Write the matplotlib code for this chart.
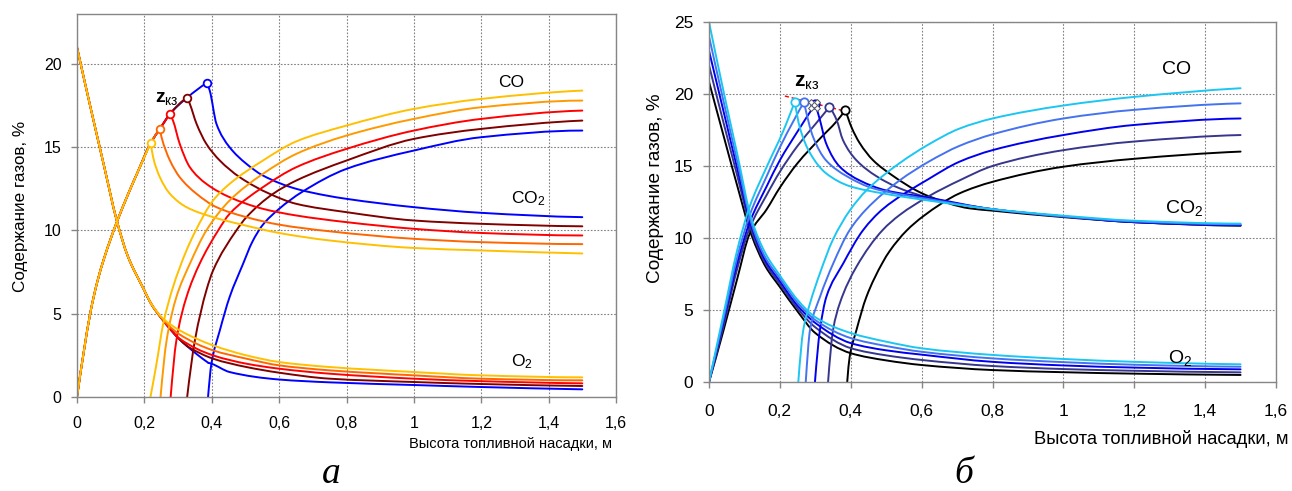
import numpy as np
import matplotlib.pyplot as plt
from matplotlib.path import Path
from matplotlib.patches import PathPatch

plt.rcParams['font.family'] = ['Liberation Sans', 'DejaVu Sans']
plt.rcParams['mathtext.fontset'] = 'custom'
plt.rcParams['mathtext.rm'] = 'Liberation Sans'
plt.rcParams['mathtext.it'] = 'Liberation Sans:italic'
plt.rcParams['mathtext.bf'] = 'Liberation Sans:bold'

# ---------------- panel a ----------------
colors_a = ['#FFC000', '#FF6600', '#FF0000', '#800000', '#0000FF']
co_colors_a = ['#FFC000', '#FF9900', '#FF0000', '#800000', '#0000FF']

peak_x_a = [0.219, 0.246, 0.276, 0.327, 0.385]
peak_y_a = [15.26, 16.1, 17.0, 17.98, 18.86]

# shared rising CO2 path and shared O2 path before each split
rise_x_a = [0, 0.02, 0.04, 0.06, 0.08, 0.1, 0.12, 0.15, 0.18, 0.219, 0.246, 0.276, 0.327, 0.385]
rise_y_a = [0, 2.7, 5.1, 6.9, 8.3, 9.5, 10.6, 12.1, 13.5, 15.26, 16.1, 17.0, 17.98, 18.86]
o2_common_x_a = [0, 0.04, 0.08, 0.118, 0.15, 0.2, 0.22, 0.25, 0.28, 0.3, 0.33, 0.36, 0.39]
o2_common_y_a = [21, 17.4, 13.9, 10.6, 8.5, 6.4, 5.6, 4.75, 4.0, 3.55, 3.0, 2.5, 2.05]

co2_tail_x_a = [
    [0.219, 0.226, 0.246, 0.276, 0.325, 0.404, 0.5, 0.6, 0.75, 1.0, 1.2, 1.5],
    [0.246, 0.251, 0.276, 0.305, 0.355, 0.414, 0.503, 0.6, 0.75, 1.0, 1.2, 1.5],
    [0.276, 0.285, 0.305, 0.335, 0.384, 0.453, 0.552, 0.651, 0.8, 1.0, 1.2, 1.5],
    [0.327, 0.335, 0.355, 0.384, 0.424, 0.483, 0.572, 0.651, 0.8, 1.0, 1.2, 1.5],
    [0.385, 0.394, 0.414, 0.453, 0.503, 0.552, 0.651, 0.74, 0.8, 1.0, 1.2, 1.5],
]
co2_tail_y_a = [
    [15.26, 14.4, 13.2, 12.2, 11.4, 10.8, 10.3, 9.85, 9.4, 8.95, 8.8, 8.62],
    [16.1, 15.6, 14.2, 13.2, 12.2, 11.4, 10.8, 10.35, 9.95, 9.5, 9.3, 9.18],
    [17.0, 16.6, 15.2, 13.8, 12.8, 12.0, 11.3, 10.9, 10.5, 10.1, 9.85, 9.7],
    [17.98, 17.6, 16.4, 15.2, 14.2, 13.2, 12.2, 11.6, 11.1, 10.6, 10.4, 10.25],
    [18.86, 18.4, 16.4, 15.0, 14.0, 13.3, 12.5, 12.1, 11.9, 11.4, 11.06, 10.8],
]
co_x_a = [
    [0.218, 0.236, 0.256, 0.285, 0.325, 0.35, 0.404, 0.453, 0.552, 0.651, 0.8, 1.0, 1.2, 1.5],
    [0.248, 0.266, 0.295, 0.335, 0.384, 0.453, 0.552, 0.651, 0.8, 1.0, 1.2, 1.5],
    [0.278, 0.295, 0.325, 0.364, 0.419, 0.453, 0.552, 0.651, 0.8, 1.0, 1.2, 1.5],
    [0.327, 0.35, 0.384, 0.404, 0.473, 0.503, 0.582, 0.651, 0.8, 1.0, 1.2, 1.5],
    [0.389, 0.399, 0.424, 0.453, 0.493, 0.52, 0.55, 0.6, 0.667, 0.8, 1.0, 1.2, 1.5],
]
co_y_a = [
    [0, 2.0, 4.4, 6.6, 8.8, 9.9, 11.8, 12.8, 14.2, 15.35, 16.3, 17.3, 17.9, 18.4],
    [0, 3.4, 6.0, 8.0, 10.0, 11.8, 13.4, 14.6, 15.7, 16.7, 17.4, 17.8],
    [0, 3.4, 6.0, 8.0, 10.0, 11.0, 12.6, 13.8, 14.9, 16.0, 16.7, 17.2],
    [0, 3.4, 6.4, 7.6, 10.0, 10.8, 12.2, 13.0, 14.2, 15.5, 16.1, 16.6],
    [0, 2.0, 4.0, 6.0, 8.0, 9.3, 10.3, 11.3, 12.3, 13.7, 14.8, 15.6, 16.0],
]
o2_tail_x_a = [
    [0.22, 0.256, 0.305, 0.404, 0.503, 0.6, 0.75, 1.0, 1.2, 1.5],
    [0.246, 0.266, 0.305, 0.404, 0.503, 0.6, 0.75, 1.0, 1.2, 1.5],
    [0.276, 0.305, 0.404, 0.503, 0.6, 0.75, 1.0, 1.2, 1.5],
    [0.327, 0.335, 0.404, 0.503, 0.6, 0.75, 1.0, 1.2, 1.5],
    [0.39, 0.399, 0.453, 0.6, 0.75, 1.0, 1.2, 1.5],
]
o2_tail_y_a = [
    [5.6, 4.7, 4.0, 3.1, 2.5, 2.1, 1.8, 1.5, 1.3, 1.18],
    [4.85, 4.4, 3.75, 2.8, 2.3, 1.9, 1.6, 1.3, 1.1, 1.0],
    [4.1, 3.5, 2.5, 2.0, 1.7, 1.4, 1.1, 0.95, 0.82],
    [3.05, 2.95, 2.3, 1.8, 1.46, 1.1, 0.9, 0.78, 0.66],
    [2.05, 2.0, 1.5, 1.05, 0.88, 0.72, 0.6, 0.46],
]

# ---------------- panel b ----------------
colors_b = ['#1CC6F2', '#4472F0', '#0000EE', '#36368C', '#000000']
peak_x_b = [0.242, 0.268, 0.30, 0.34, 0.385]
peak_y_b = [19.47, 19.45, 19.3, 19.1, 18.9]

co2_x_b = [
    [0, 0.04, 0.08, 0.115, 0.163, 0.209, 0.242, 0.256, 0.285, 0.33, 0.397, 0.49, 0.62, 0.8, 1.0, 1.2, 1.5],
    [0, 0.04, 0.08, 0.115, 0.163, 0.2, 0.24, 0.268, 0.294, 0.33, 0.388, 0.463, 0.62, 0.8, 1.0, 1.2, 1.5],
    [0, 0.04, 0.08, 0.115, 0.163, 0.2, 0.25, 0.30, 0.313, 0.33, 0.369, 0.425, 0.5, 0.62, 0.8, 1.0, 1.2, 1.5],
    [0, 0.04, 0.08, 0.115, 0.163, 0.2, 0.25, 0.3, 0.34, 0.36, 0.378, 0.416, 0.472, 0.538, 0.62, 0.8, 1.0, 1.2, 1.5],
    [0, 0.04, 0.08, 0.115, 0.163, 0.2, 0.25, 0.313, 0.36, 0.385, 0.402, 0.425, 0.463, 0.52, 0.585, 0.62, 0.735, 0.8, 1.0, 1.2, 1.5],
]
co2_y_b = [
    [0, 4.6, 9.2, 12.2, 14.95, 17.4, 19.47, 17.7, 15.9, 14.5, 13.6, 13.1, 12.6, 12.0, 11.55, 11.2, 11.0],
    [0, 4.3, 8.7, 11.6, 14.3, 16.3, 18.2, 19.45, 17.0, 15.4, 14.3, 13.45, 12.7, 12.0, 11.5, 11.15, 10.95],
    [0, 4.1, 8.3, 11.1, 13.6, 15.4, 17.4, 19.3, 18.2, 16.6, 14.95, 14.0, 13.3, 12.8, 12.0, 11.5, 11.1, 10.9],
    [0, 3.8, 7.9, 10.7, 13.0, 14.6, 16.4, 17.9, 19.1, 18.2, 16.8, 15.4, 14.3, 13.45, 12.8, 12.0, 11.5, 11.1, 10.88],
    [0, 3.5, 7.2, 10.3, 12.0, 13.5, 15.2, 16.9, 18.1, 18.9, 17.7, 16.6, 15.4, 14.3, 13.3, 12.9, 12.06, 11.9, 11.45, 11.1, 10.85],
]
co_x_b = [
    [0.252, 0.266, 0.285, 0.313, 0.35, 0.397, 0.444, 0.538, 0.62, 0.707, 0.8, 1.0, 1.2, 1.5],
    [0.273, 0.285, 0.313, 0.35, 0.397, 0.444, 0.538, 0.62, 0.707, 0.8, 1.0, 1.2, 1.5],
    [0.299, 0.313, 0.331, 0.378, 0.435, 0.49, 0.62, 0.707, 0.8, 1.0, 1.2, 1.5],
    [0.336, 0.35, 0.369, 0.416, 0.49, 0.538, 0.62, 0.707, 0.8, 1.0, 1.2, 1.5],
    [0.39, 0.397, 0.416, 0.444, 0.49, 0.51, 0.557, 0.604, 0.707, 0.8, 1.0, 1.2, 1.5],
]
co_y_b = [
    [0, 3.6, 5.46, 7.55, 9.9, 11.9, 13.3, 15.2, 16.5, 17.6, 18.3, 19.2, 19.8, 20.4],
    [0, 3.6, 5.9, 8.2, 10.55, 12.0, 14.0, 15.3, 16.4, 17.2, 18.3, 18.9, 19.35],
    [0, 3.6, 5.9, 8.2, 10.55, 12.0, 14.1, 15.3, 16.1, 17.15, 17.85, 18.3],
    [0, 3.6, 5.46, 8.0, 10.55, 11.6, 12.9, 14.0, 15.0, 16.1, 16.7, 17.15],
    [0, 1.76, 3.6, 5.9, 8.3, 9.1, 10.5, 11.5, 13.1, 13.9, 14.95, 15.5, 16.0],
]
o2_x_b = [0, 0.04, 0.08, 0.12, 0.16, 0.2, 0.25, 0.3, 0.4, 0.5, 0.6, 0.8, 1.0, 1.2, 1.5]
o2_y_b = [
    [25, 20.3, 15.8, 11.3, 8.9, 7.4, 5.7, 4.5, 3.4, 2.8, 2.34, 1.88, 1.6, 1.4, 1.23],
    [24, 19.6, 15.3, 11.0, 8.6, 7.2, 5.5, 4.3, 3.05, 2.5, 2.1, 1.64, 1.38, 1.2, 1.06],
    [23, 18.9, 14.8, 10.8, 8.4, 7.0, 5.3, 4.1, 2.7, 2.2, 1.9, 1.4, 1.15, 1.0, 0.88],
    [22, 18.1, 14.3, 10.5, 8.2, 6.8, 5.1, 3.8, 2.35, 1.85, 1.53, 1.11, 0.9, 0.78, 0.67],
    [20.85, 17.2, 13.6, 10.2, 8.0, 6.6, 4.9, 3.4, 2.0, 1.5, 1.18, 0.83, 0.68, 0.58, 0.49],
]
trend_x_b = [0.214, 0.385]
trend_y_b = [19.86, 18.8]
handle_x_b = [0.287, 0.305, 0.287, 0.305]
handle_y_b = [19.47, 19.47, 19.0, 19.0]

xticks = [0, 0.2, 0.4, 0.6, 0.8, 1.0, 1.2, 1.4, 1.6]
xtick_labels = ['0', '0,2', '0,4', '0,6', '0,8', '1', '1,2', '1,4', '1,6']
ylabel = 'Содержание газов, %'
xlabel = 'Высота топливной насадки, м'


def slopes(x, y):
    # monotone (Fritsch-Carlson) tangents, used for a smoothed line like Excel's
    h = np.diff(x)
    d = np.diff(y) / h
    n = len(x)
    m = np.zeros(n)
    if n == 2:
        m[:] = d[0]
        return m
    for k in range(1, n - 1):
        if d[k - 1] * d[k] > 0:
            w1 = 2 * h[k] + h[k - 1]
            w2 = h[k] + 2 * h[k - 1]
            m[k] = (w1 + w2) / (w1 / d[k - 1] + w2 / d[k])
    for k0, a, b, ha, hb in [(0, 0, 1, 0, 1), (n - 1, -1, -2, -1, -2)]:
        e = ((2 * h[ha] + h[hb]) * d[a] - h[ha] * d[b]) / (h[ha] + h[hb])
        if np.sign(e) != np.sign(d[a]):
            e = 0
        elif np.sign(d[a]) != np.sign(d[b]) and abs(e) > abs(3 * d[a]):
            e = 3 * d[a]
        m[k0] = e
    return m


def smooth(ax, x, y, color, lw=1.4, z=2):
    x = np.asarray(x, float)
    y = np.asarray(y, float)
    m = slopes(x, y)
    verts = [(x[0], y[0])]
    codes = [Path.MOVETO]
    for k in range(len(x) - 1):
        h = x[k + 1] - x[k]
        verts += [(x[k] + h / 3, y[k] + m[k] * h / 3),
                  (x[k + 1] - h / 3, y[k + 1] - m[k + 1] * h / 3),
                  (x[k + 1], y[k + 1])]
        codes += [Path.CURVE4] * 3
    ax.add_patch(PathPatch(Path(verts, codes), fill=False, edgecolor=color,
                           lw=lw, zorder=z, capstyle='round', joinstyle='round'))


def style(ax, ymax, yticks, fs, padx, pady):
    ax.set_xlim(0, 1.6)
    ax.set_ylim(0, ymax)
    ax.set_xticks(xticks)
    ax.set_xticklabels(xtick_labels)
    ax.set_yticks(yticks)
    ax.grid(True, color='#808080', linestyle=(0, (1.5, 1.5)), linewidth=0.8)
    for s in ax.spines.values():
        s.set_color('#868686')
        s.set_linewidth(1.0)
    ax.tick_params(direction='out', length=4.5, width=1, color='#868686', labelsize=fs)
    ax.tick_params(axis='x', pad=padx)
    ax.tick_params(axis='y', pad=pady)
    ax.set_axisbelow(True)


fig = plt.figure(figsize=(12.92, 4.91), dpi=100)
W, H = 1292, 491
ax1 = fig.add_axes([77 / W, 1 - 397 / H, (616 - 77) / W, (397 - 14) / H])
ax2 = fig.add_axes([709 / W, 1 - 382 / H, (1276 - 709) / W, (382 - 22) / H])

style(ax1, 23, [0, 5, 10, 15, 20], 11.5, 9.5, 6.5)
style(ax2, 25, [0, 5, 10, 15, 20, 25], 12.5, 11, 7)

for i in reversed(range(5)):
    rx = np.array(rise_x_a)
    keep = rx < peak_x_a[i]
    smooth(ax1, list(rx[keep]) + [peak_x_a[i]], list(np.array(rise_y_a)[keep]) + [peak_y_a[i]], colors_a[i])
    smooth(ax1, co2_tail_x_a[i], co2_tail_y_a[i], colors_a[i])
    ox = np.array(o2_common_x_a)
    keep = ox < o2_tail_x_a[i][0]
    smooth(ax1, list(ox[keep]) + [o2_tail_x_a[i][0]], list(np.array(o2_common_y_a)[keep]) + [o2_tail_y_a[i][0]], colors_a[i])
    smooth(ax1, o2_tail_x_a[i], o2_tail_y_a[i], colors_a[i])
    smooth(ax1, co_x_a[i], co_y_a[i], co_colors_a[i])
for i in range(5):
    ax1.plot(peak_x_a[i], peak_y_a[i], 'o', ms=5.5, mfc='white', mec=colors_a[i], mew=1.3, zorder=5)

ax1.text(1.29, 18.9, 'CO', fontsize=12.5, ha='center', va='center')
ax1.text(1.34, 11.9, 'CO$_2$', fontsize=12.5, ha='center', va='center')
ax1.text(1.32, 2.1, 'O$_2$', fontsize=12.5, ha='center', va='center')
ax1.text(0.268, 17.95, r'$\mathbf{z}_{\mathrm{кз}}$', fontsize=14, ha='center', va='center')

for i in reversed(range(5)):
    k = int(np.argmax(co2_y_b[i]))
    smooth(ax2, co2_x_b[i][:k + 1], co2_y_b[i][:k + 1], colors_b[i])
    smooth(ax2, co2_x_b[i][k:], co2_y_b[i][k:], colors_b[i])
    smooth(ax2, o2_x_b, o2_y_b[i], colors_b[i])
    smooth(ax2, co_x_b[i], co_y_b[i], colors_b[i])
ax2.plot(trend_x_b, trend_y_b, color='#FF0000', lw=1, linestyle=(0, (3, 2)), zorder=4)
for i in range(5):
    ax2.plot(peak_x_b[i], peak_y_b[i], 'o', ms=6, mfc='white', mec=colors_b[i], mew=1.3, zorder=5)
ax2.plot(handle_x_b, handle_y_b, 'D', ms=3, mfc='white', mec='#555555', mew=0.7, linestyle='none', zorder=6)

ax2.text(1.318, 21.7, 'CO', fontsize=14, ha='center', va='center')
ax2.text(1.34, 12.1, 'CO$_2$', fontsize=14, ha='center', va='center')
ax2.text(1.33, 1.7, 'O$_2$', fontsize=14, ha='center', va='center')
ax2.text(0.275, 20.8, r'$\mathbf{z}_{\mathrm{кз}}$', fontsize=15, ha='center', va='center')

fig.text(612 / W, 1 - 444 / H, xlabel, fontsize=10.5, ha='right', va='center')
fig.text(1289 / W, 1 - 439 / H, xlabel, fontsize=13.2, ha='right', va='center')
fig.text(21 / W, 1 - 206 / H, ylabel, fontsize=12.3, rotation=90, ha='center', va='center')
fig.text(655 / W, 1 - 188 / H, ylabel, fontsize=13.7, rotation=90, ha='center', va='center')

fig.text(331 / W, 1 - 483 / H, 'а', fontsize=27, family='Liberation Serif', style='italic', ha='center', va='baseline')
fig.text(964 / W, 1 - 483 / H, 'б', fontsize=27, family='Liberation Serif', style='italic', ha='center', va='baseline')

fig.savefig('out.png', dpi=100)
